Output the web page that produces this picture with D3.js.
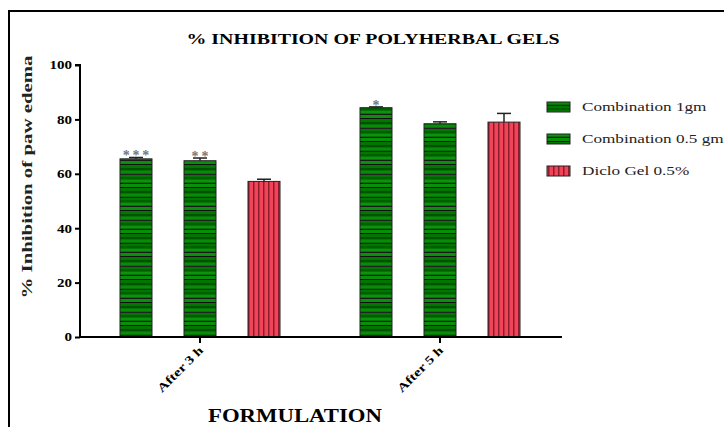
<html>
<head>
    <title>% Inhibition of polyherbal gels</title>
    <script src="https://d3js.org/d3.v7.min.js"></script>
    <style>
        body { margin: 0; background: white; }
        text { font-family: "Liberation Serif", "Times New Roman", serif; }
    </style>
</head>
<body>
    <div id="chart"></div>
    <script>
        var groups = ["After 3 h", "After 5 h"];
        var series = ["Combination 1gm", "Combination 0.5 gm", "Diclo Gel 0.5%"];
        var means = [[65.5, 64.8, 57.2], [84.3, 78.4, 79.0]];
        var errors = [[0.5, 1.0, 0.8], [0.3, 0.7, 3.2]];
        var stars = [["***", "**", ""], ["*", "", ""]];
        var yTicks = [0, 20, 40, 60, 80, 100];

        var width = 724, height = 427;
        var svg = d3.select("#chart").append("svg")
                    .attr("width", width)
                    .attr("height", height);

        // the source picture has its text stretched sideways
        function stretch(sel, k)
        {
            sel.each(function(){
                var len = this.getComputedTextLength();
                d3.select(this).attr("textLength", len * k).attr("lengthAdjust", "spacingAndGlyphs");
            });
        }

        // fill patterns
        var defs = svg.append("defs");
        var gp = defs.append("pattern")
                     .attr("id", "green")
                     .attr("patternUnits", "userSpaceOnUse")
                     .attr("width", 40).attr("height", 23);
        gp.append("rect").attr("width", 40).attr("height", 23).attr("fill", "#037503");
        [[0, "#0a8f0a", 3], [3, "#111", 1], [7, "#005200", 2], [10, "#0a8a0a", 2], [13, "#222", 1], [16, "#006000", 2], [19, "#0c920c", 2], [22, "#1a1a1a", 1]]
            .forEach(function(l){
                gp.append("rect").attr("x", 0).attr("y", l[0]).attr("width", 40).attr("height", l[2]).attr("fill", l[1]);
            });
        var rp = defs.append("pattern")
                     .attr("id", "red")
                     .attr("patternUnits", "userSpaceOnUse")
                     .attr("width", 5).attr("height", 10);
        rp.append("rect").attr("width", 5).attr("height", 10).attr("fill", "#f24458");
        rp.append("rect").attr("x", 3).attr("width", 1.5).attr("height", 10).attr("fill", "#8c1c2c");
        var fills = ["url(#green)", "url(#green)", "url(#red)"];

        // frame
        svg.append("rect")
           .attr("x", 9).attr("y", 11)
           .attr("width", 730).attr("height", 430)
           .attr("fill", "none").attr("stroke", "#000").attr("stroke-width", 2);

        var x0 = d3.scaleBand().domain(groups).range([80, 560])
                   .paddingInner(1 / 3).paddingOuter(1 / 6);
        var x1 = d3.scaleBand().domain(series).range([0, x0.bandwidth()])
                   .paddingInner(0.5).paddingOuter(0);
        var y = d3.scaleLinear().domain([0, 100]).range([337, 65]);

        // bars
        groups.forEach(function(g, gi){
            var grp = svg.append("g").attr("transform", "translate(" + x0(g) + ",0)");
            series.forEach(function(s, si){
                var v = means[gi][si], e = errors[gi][si];
                var cx = x1(s) + x1.bandwidth() / 2;
                grp.append("rect")
                   .attr("x", x1(s)).attr("y", y(v))
                   .attr("width", x1.bandwidth()).attr("height", y(0) - y(v))
                   .attr("fill", fills[si])
                   .attr("stroke", "#222").attr("stroke-width", 1);
                grp.append("line")
                   .attr("x1", cx).attr("x2", cx)
                   .attr("y1", y(v)).attr("y2", y(v + e))
                   .attr("stroke", "#222").attr("stroke-width", 1.5);
                grp.append("line")
                   .attr("x1", cx - 7).attr("x2", cx + 7)
                   .attr("y1", y(v + e)).attr("y2", y(v + e))
                   .attr("stroke", "#222").attr("stroke-width", 1.5);
                if(stars[gi][si])
                    grp.append("text")
                       .attr("x", cx).attr("y", y(v + e) + 3)
                       .attr("text-anchor", "middle")
                       .attr("font-size", 14).attr("font-weight", "bold")
                       .attr("fill", "#777")
                       .text(stars[gi][si].split("").join("\u2009"));
            });
        });

        // y axis
        var yAxis = svg.append("g")
                       .attr("transform", "translate(80,0)")
                       .call(d3.axisLeft(y).tickValues(yTicks).tickSize(5).tickPadding(3));
        yAxis.select(".domain").attr("stroke-width", 2).attr("d", "M-5," + y(100) + "H0V" + y(0));
        yAxis.selectAll(".tick line").attr("stroke-width", 2);
        yAxis.selectAll(".tick text").attr("font-size", 12).attr("font-weight", "bold")
             .attr("font-family", "Liberation Serif, serif")
             .call(stretch, 1.25);

        // x axis
        svg.append("line")
           .attr("x1", 80).attr("x2", 562)
           .attr("y1", y(0)).attr("y2", y(0))
           .attr("stroke", "#000").attr("stroke-width", 2);
        groups.forEach(function(g){
            var cx = x0(g) + x0.bandwidth() / 2;
            svg.append("line")
               .attr("x1", cx).attr("x2", cx)
               .attr("y1", y(0)).attr("y2", y(0) + 6)
               .attr("stroke", "#000").attr("stroke-width", 2);
            svg.append("text")
               .attr("transform", "translate(" + (cx + 4) + "," + (y(0) + 14) + ") rotate(-45)")
               .attr("text-anchor", "end")
               .attr("font-size", 12).attr("font-weight", "bold")
               .text(g)
               .call(stretch, 1.3);
        });

        // titles
        svg.append("text")
           .attr("x", 373).attr("y", 44)
           .attr("text-anchor", "middle")
           .attr("font-size", 15).attr("font-weight", "bold")
           .text("% INHIBITION OF POLYHERBAL GELS")
           .attr("textLength", 373).attr("lengthAdjust", "spacingAndGlyphs");
        svg.append("text")
           .attr("transform", "translate(32,177) rotate(-90)")
           .attr("text-anchor", "middle")
           .attr("font-size", 15).attr("font-weight", "bold")
           .attr("fill", "#222")
           .text("% Inhibition of paw edema")
           .attr("textLength", 243).attr("lengthAdjust", "spacingAndGlyphs");
        svg.append("text")
           .attr("x", 295).attr("y", 422)
           .attr("text-anchor", "middle")
           .attr("font-size", 18).attr("font-weight", "bold")
           .text("FORMULATION")
           .attr("textLength", 174).attr("lengthAdjust", "spacingAndGlyphs");

        // legend
        series.forEach(function(s, i){
            var ly = 107 + i * 32;
            svg.append("rect")
               .attr("x", 547).attr("y", ly - 5)
               .attr("width", 23).attr("height", 10)
               .attr("fill", fills[i]).attr("stroke", "#222").attr("stroke-width", 1);
            svg.append("text")
               .attr("x", 582).attr("y", ly + 4)
               .attr("font-size", 13)
               .attr("fill", "#222")
               .text(s)
               .call(stretch, 1.32);
        });
    </script>
</body>
</html>
